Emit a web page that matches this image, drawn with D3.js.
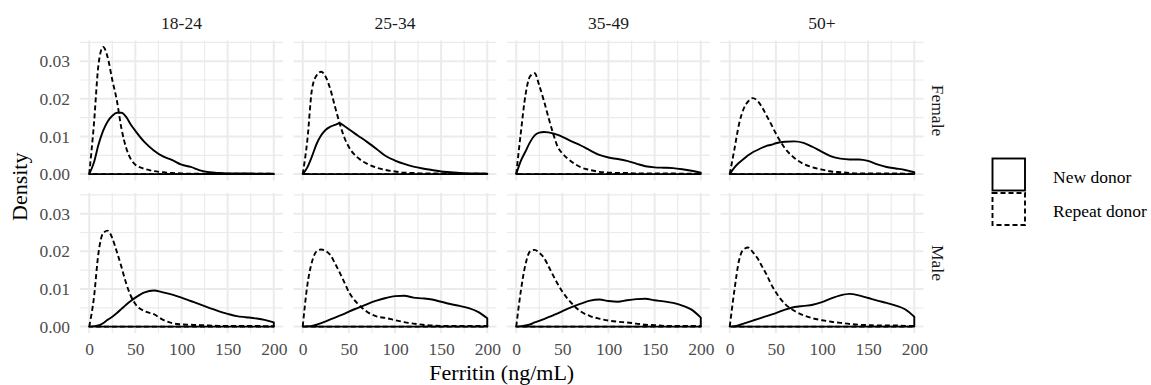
<!DOCTYPE html>
<html>
<head>
<meta charset="utf-8">
<script src="https://cdn.jsdelivr.net/npm/d3@7"></script>
<style>
  body { margin: 0; background: #ffffff; }
  text { font-family: "Liberation Serif", "Times New Roman", serif; }
</style>
</head>
<body>
<script>

// facets and groups
var ageGroups = ["18-24", "25-34", "35-49", "50+"];
var sexes = ["Female", "Male"];
var donorTypes = ["New donor", "Repeat donor"];

// ferritin values (ng/mL) where the densities were read
var ferritin = [0, 5, 10, 15, 20, 25, 30, 35, 40, 45, 50, 60, 70, 80, 90, 100,
                110, 120, 130, 140, 150, 160, 170, 180, 190, 200];

// density curves
var femaleNew18 = [0, 0.0030, 0.0078, 0.0115, 0.0140, 0.0155, 0.0163, 0.0163, 0.0152, 0.0132, 0.0115, 0.0085, 0.0063,
                   0.0047, 0.0037, 0.0025, 0.0019, 0.0010, 0.0005, 0.0003, 0.0002, 0.0002, 0.0002, 0.0001, 0.0001, 0.0001];
var femaleRep18 = [0, 0.0130, 0.0290, 0.0338, 0.0310, 0.0250, 0.0195, 0.0120, 0.0070, 0.0040, 0.0025, 0.0014, 0.0008,
                   0.0005, 0.0003, 0.0002, 0.0001, 0.0001, 0.0001, 0.0001, 0.0001, 0.0001, 0.0001, 0.0001, 0.0001, 0.0001];
var femaleNew25 = [0, 0.0018, 0.0047, 0.0080, 0.0103, 0.0118, 0.0126, 0.0131, 0.0135, 0.0128, 0.0119, 0.0102, 0.0085,
                   0.0067, 0.0048, 0.0036, 0.0027, 0.0020, 0.0015, 0.0011, 0.0007, 0.0005, 0.0003, 0.0002, 0.0002, 0.0001];
var femaleRep25 = [0, 0.0090, 0.0225, 0.0262, 0.0272, 0.0258, 0.0225, 0.0179, 0.0135, 0.0098, 0.0072, 0.0043, 0.0027,
                   0.0017, 0.0011, 0.0007, 0.0004, 0.0003, 0.0002, 0.0002, 0.0002, 0.0001, 0.0001, 0.0001, 0.0001, 0.0001];
var femaleNew35 = [0, 0.0035, 0.0060, 0.0085, 0.0103, 0.0110, 0.0112, 0.0111, 0.0108, 0.0104, 0.0099, 0.0087, 0.0076,
                   0.0063, 0.0051, 0.0044, 0.0040, 0.0035, 0.0028, 0.0021, 0.0018, 0.0017, 0.0016, 0.0013, 0.0009, 0.0004];
var femaleRep35 = [0, 0.0110, 0.0210, 0.0260, 0.0268, 0.0235, 0.0195, 0.0150, 0.0108, 0.0072, 0.0055, 0.0033, 0.0018,
                   0.0011, 0.0006, 0.0004, 0.0003, 0.0003, 0.0002, 0.0002, 0.0002, 0.0002, 0.0002, 0.0001, 0.0001, 0.0001];
var femaleNew50 = [0, 0.0017, 0.0030, 0.0040, 0.0050, 0.0058, 0.0064, 0.0070, 0.0075, 0.0078, 0.0082, 0.0086, 0.0087,
                   0.0083, 0.0072, 0.0059, 0.0047, 0.0041, 0.0039, 0.0039, 0.0035, 0.0026, 0.0019, 0.0015, 0.0011, 0.0005];
var femaleRep50 = [0, 0.0065, 0.0132, 0.0173, 0.0193, 0.0202, 0.0195, 0.0178, 0.0155, 0.0132, 0.0108, 0.0068, 0.0043,
                   0.0027, 0.0018, 0.0012, 0.0007, 0.0005, 0.0003, 0.0002, 0.0002, 0.0002, 0.0002, 0.0002, 0.0001, 0.0001];
var maleNew18 = [0, 0.0001, 0.0003, 0.0009, 0.0018, 0.0026, 0.0036, 0.0047, 0.0058, 0.0068, 0.0077, 0.0091, 0.0096,
                 0.0091, 0.0085, 0.0077, 0.0068, 0.0059, 0.0050, 0.0041, 0.0034, 0.0028, 0.0025, 0.0022, 0.0018, 0.0011];
var maleRep18 = [0, 0.0075, 0.0195, 0.0248, 0.0255, 0.0235, 0.0198, 0.0158, 0.0115, 0.0082, 0.0060, 0.0041, 0.0033,
                 0.0018, 0.0009, 0.0006, 0.0005, 0.0004, 0.0003, 0.0002, 0.0002, 0.0002, 0.0002, 0.0002, 0.0001, 0.0001];
var maleNew25 = [0, 0.0001, 0.0002, 0.0005, 0.0009, 0.0014, 0.0019, 0.0024, 0.0029, 0.0034, 0.0040, 0.0050, 0.0060,
                 0.0069, 0.0076, 0.0081, 0.0082, 0.0077, 0.0075, 0.0072, 0.0066, 0.0060, 0.0055, 0.0049, 0.0039, 0.0022];
var maleRep25 = [0, 0.0110, 0.0172, 0.0200, 0.0205, 0.0201, 0.0190, 0.0168, 0.0144, 0.0118, 0.0092, 0.0060, 0.0039,
                 0.0027, 0.0023, 0.0017, 0.0012, 0.0008, 0.0005, 0.0003, 0.0002, 0.0002, 0.0002, 0.0002, 0.0002, 0.0002];
var maleNew35 = [0, 0.0001, 0.0003, 0.0006, 0.0011, 0.0015, 0.0020, 0.0025, 0.0030, 0.0035, 0.0041, 0.0052, 0.0061,
                 0.0069, 0.0072, 0.0068, 0.0066, 0.0070, 0.0073, 0.0074, 0.0070, 0.0067, 0.0063, 0.0056, 0.0045, 0.0024];
var maleRep35 = [0, 0.0095, 0.0165, 0.0200, 0.0204, 0.0196, 0.0183, 0.0160, 0.0136, 0.0113, 0.0093, 0.0062, 0.0040,
                 0.0028, 0.0021, 0.0016, 0.0013, 0.0011, 0.0008, 0.0005, 0.0004, 0.0002, 0.0002, 0.0002, 0.0002, 0.0002];
var maleNew50 = [0, 0.0001, 0.0004, 0.0008, 0.0012, 0.0016, 0.0020, 0.0024, 0.0028, 0.0032, 0.0036, 0.0045, 0.0052,
                 0.0055, 0.0058, 0.0065, 0.0075, 0.0083, 0.0087, 0.0083, 0.0076, 0.0069, 0.0063, 0.0056, 0.0046, 0.0026];
var maleRep50 = [0, 0.0095, 0.0175, 0.0205, 0.0210, 0.0198, 0.0182, 0.0160, 0.0138, 0.0112, 0.0091, 0.0060, 0.0042,
                 0.0030, 0.0022, 0.0017, 0.0013, 0.0010, 0.0007, 0.0005, 0.0004, 0.0003, 0.0003, 0.0003, 0.0002, 0.0002];

// tick values
var xTicks = [0, 50, 100, 150, 200];
var xMinor = [25, 75, 125, 175];
var yTicks = [0, 0.01, 0.02, 0.03];
var yMinor = [0.005, 0.015, 0.025, 0.035];

// set properties for the graph
var w = 1151;
var h = 385;
var start_w = 80;
var panelW = 203;
var panelGap = 10.5;
var start_h = 40.5;
var panelH = 140;
var rowGap = 12.5;
var gridColor = "#ebebeb";
var dashes = "5,3";

window.onload = function() {

  // group the curves per facet
  var curves = {
    "Female": {
      "18-24": [femaleNew18, femaleRep18],
      "25-34": [femaleNew25, femaleRep25],
      "35-49": [femaleNew35, femaleRep35],
      "50+": [femaleNew50, femaleRep50]
    },
    "Male": {
      "18-24": [maleNew18, maleRep18],
      "25-34": [maleNew25, maleRep25],
      "35-49": [maleNew35, maleRep35],
      "50+": [maleNew50, maleRep50]
    }
  };

  var scales = scale();
  drawFacets(curves, scales[0], scales[1]);
};


function scale() {
  // x-axis, with ggplot's 5% padding
  var xScale = d3.scaleLinear()
                 .domain([-10, 210])
                 .range([0, panelW]);

  // y-axis, same for every panel
  var yScale = d3.scaleLinear()
                 .domain([-0.0017, 0.0355])
                 .range([panelH, 0]);

  return [xScale, yScale];
}


function drawFacets(curves, xScale, yScale) {

  var svg = d3.select("body")
              .append("svg")
              .attr("width", w)
              .attr("height", h)
              .style("background", "#ffffff");

  var line = d3.line()
               .x(function(d) { return xScale(d[0]); })
               .y(function(d) { return yScale(d[1]); })
               .curve(d3.curveMonotoneX);

  sexes.forEach(function(sex, row) {
    ageGroups.forEach(function(age, col) {

      var px = start_w + col * (panelW + panelGap);
      var py = start_h + row * (panelH + rowGap);

      var panel = svg.append("g")
                     .attr("transform", "translate(" + px + "," + py + ")");

      // minor grid
      panel.selectAll(".xminor")
           .data(xMinor)
           .enter()
           .append("line")
           .attr("x1", function(d) { return xScale(d); })
           .attr("x2", function(d) { return xScale(d); })
           .attr("y1", 0)
           .attr("y2", panelH)
           .attr("stroke", gridColor)
           .attr("stroke-width", 1.2);

      panel.selectAll(".yminor")
           .data(yMinor)
           .enter()
           .append("line")
           .attr("x1", 0)
           .attr("x2", panelW)
           .attr("y1", function(d) { return yScale(d); })
           .attr("y2", function(d) { return yScale(d); })
           .attr("stroke", gridColor)
           .attr("stroke-width", 1.2);

      // major grid
      panel.selectAll(".xmajor")
           .data(xTicks)
           .enter()
           .append("line")
           .attr("x1", function(d) { return xScale(d); })
           .attr("x2", function(d) { return xScale(d); })
           .attr("y1", 0)
           .attr("y2", panelH)
           .attr("stroke", gridColor)
           .attr("stroke-width", 2);

      panel.selectAll(".ymajor")
           .data(yTicks)
           .enter()
           .append("line")
           .attr("x1", 0)
           .attr("x2", panelW)
           .attr("y1", function(d) { return yScale(d); })
           .attr("y2", function(d) { return yScale(d); })
           .attr("stroke", gridColor)
           .attr("stroke-width", 2);

      // density outlines, closed along the baseline
      curves[sex][age].forEach(function(values, k) {
        var points = ferritin.map(function(f, i) { return [f, values[i]]; });
        var path = line(points) + "L" + xScale(200) + "," + yScale(0) + "Z";
        panel.append("path")
             .attr("d", path)
             .attr("fill", "none")
             .attr("stroke", "#000000")
             .attr("stroke-width", 1.9)
             .attr("stroke-linejoin", "round")
             .attr("stroke-dasharray", k == 1 ? dashes : null);
      });

      // strip label on top
      if (row == 0) {
        svg.append("text")
           .attr("x", px + panelW / 2)
           .attr("y", 29.3)
           .attr("text-anchor", "middle")
           .attr("font-size", "17.5px")
           .attr("fill", "#1a1a1a")
           .text(age);
      }

      // strip label on the right
      if (col == ageGroups.length - 1) {
        svg.append("text")
           .attr("transform", "translate(" + 932 + "," + (py + panelH / 2) + ") rotate(90)")
           .attr("text-anchor", "middle")
           .attr("font-size", "17.5px")
           .attr("fill", "#1a1a1a")
           .text(sex);
      }

      // y axis on the first column
      if (col == 0) {
        var yAxis = d3.axisLeft(yScale)
                      .tickValues(yTicks)
                      .tickFormat(d3.format(".2f"))
                      .tickSize(0)
                      .tickPadding(10);
        var ya = panel.append("g").call(yAxis);
        ya.select(".domain").remove();
        ya.selectAll("text")
          .attr("font-size", "17.5px")
          .attr("font-family", "Liberation Serif, serif")
          .attr("fill", "#4d4d4d");
      }

      // x axis on the bottom row
      if (row == sexes.length - 1) {
        var xAxis = d3.axisBottom(xScale)
                      .tickValues(xTicks)
                      .tickSize(0)
                      .tickPadding(10);
        var xa = panel.append("g")
                      .attr("transform", "translate(0," + panelH + ")")
                      .call(xAxis);
        xa.select(".domain").remove();
        xa.selectAll("text")
          .attr("font-size", "17.5px")
          .attr("font-family", "Liberation Serif, serif")
          .attr("fill", "#4d4d4d");
      }
    });
  });

  // axis titles
  var lastRight = start_w + ageGroups.length * panelW + (ageGroups.length - 1) * panelGap;
  svg.append("text")
     .attr("x", (start_w + lastRight) / 2)
     .attr("y", 380)
     .attr("text-anchor", "middle")
     .attr("font-size", "22px")
     .attr("fill", "#000000")
     .text("Ferritin (ng/mL)");

  svg.append("text")
     .attr("transform", "translate(26.5," + (start_h + panelH + rowGap / 2) + ") rotate(-90)")
     .attr("text-anchor", "middle")
     .attr("font-size", "22px")
     .attr("fill", "#000000")
     .text("Density");

  // legend
  var legend = svg.append("g")
                  .attr("transform", "translate(992,158)");

  donorTypes.forEach(function(name, i) {
    legend.append("rect")
          .attr("x", 0.5)
          .attr("y", i * 34.5 + 0.5)
          .attr("width", 32.5)
          .attr("height", 32)
          .attr("fill", "none")
          .attr("stroke", "#000000")
          .attr("stroke-width", 1.9)
          .attr("stroke-dasharray", i == 1 ? dashes : null);

    legend.append("text")
          .attr("x", 61)
          .attr("y", 24.5 + i * 34.5)
          .attr("font-size", "17.5px")
          .attr("fill", "#000000")
          .text(name);
  });
}

</script>
</body>
</html>
